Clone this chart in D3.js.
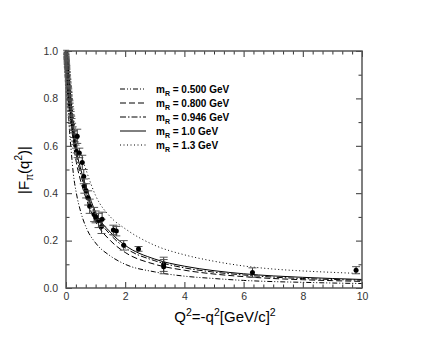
<!DOCTYPE html>
<html>
<head>
<meta charset="utf-8">
<script src="https://cdn.jsdelivr.net/npm/d3@7"></script>
<style>
  body { margin: 0; background: #fff; }
  svg { font-family: "Liberation Sans", Arial, sans-serif; }
</style>
</head>
<body>
<svg id="chart" width="440" height="340"></svg>
<script>
// model curves at these Q^2 values
const qGrid = [0, 0.05, 0.1, 0.175, 0.25, 0.35, 0.5, 0.7, 1, 1.5, 2, 3, 4, 5, 6, 7, 8, 9, 10];
const m0500 = [1, 0.83, 0.70, 0.58, 0.48, 0.40, 0.32, 0.25, 0.19, 0.135, 0.10, 0.068, 0.05, 0.04, 0.032, 0.027, 0.024, 0.021, 0.019];
const m0800 = [1, 0.89, 0.80, 0.70, 0.61, 0.53, 0.45, 0.37, 0.28, 0.20, 0.15, 0.10, 0.075, 0.059, 0.048, 0.040, 0.035, 0.031, 0.028];
const m0946 = [1, 0.90, 0.82, 0.72, 0.64, 0.56, 0.48, 0.40, 0.31, 0.225, 0.17, 0.115, 0.085, 0.067, 0.055, 0.046, 0.040, 0.036, 0.033];
const m1000 = [1, 0.91, 0.83, 0.74, 0.66, 0.58, 0.50, 0.42, 0.32, 0.235, 0.18, 0.122, 0.092, 0.073, 0.06, 0.051, 0.045, 0.040, 0.036];
const m1300 = [1, 0.93, 0.87, 0.79, 0.72, 0.65, 0.57, 0.49, 0.39, 0.30, 0.25, 0.18, 0.14, 0.113, 0.093, 0.080, 0.072, 0.066, 0.061];
const legendLabels = ["0.500", "0.800", "0.946", "1.0", "1.3"];

// measured points: Q^2, |F|, error
const lowQ2 = [0.005,0.01,0.012,0.015,0.018,0.02,0.022,0.025,0.028,0.03,0.033,0.035,0.038,0.04,0.043,0.045,0.048,0.05,0.055,0.06,0.065,0.07,0.075,0.08,0.085,0.09,0.095,0.10,0.105,0.11,0.115,0.12,0.125,0.13,0.135,0.14,0.15,0.16,0.17,0.18,0.19,0.20,0.21,0.22,0.24,0.26,0.28,0.30,0.33,0.36];
const lowF  = [0.995,0.985,0.98,0.975,0.97,0.965,0.96,0.955,0.95,0.945,0.94,0.935,0.93,0.925,0.92,0.915,0.91,0.905,0.895,0.89,0.88,0.875,0.865,0.86,0.85,0.845,0.835,0.83,0.82,0.815,0.805,0.80,0.79,0.785,0.775,0.77,0.76,0.75,0.735,0.725,0.715,0.70,0.695,0.685,0.665,0.65,0.635,0.62,0.60,0.58];
const lowErr = [0.008,0.01,0.01,0.01,0.012,0.012,0.012,0.012,0.015,0.015,0.015,0.015,0.015,0.015,0.018,0.018,0.018,0.018,0.018,0.02,0.02,0.02,0.02,0.02,0.02,0.02,0.02,0.02,0.025,0.025,0.025,0.025,0.025,0.025,0.025,0.025,0.03,0.03,0.03,0.03,0.03,0.03,0.03,0.03,0.03,0.03,0.03,0.03,0.03,0.03];
const highQ2 = [0.38,0.45,0.55,0.60,0.62,0.68,0.75,0.80,0.95,1.0,1.1,1.2,1.22,1.6,1.7,1.95,2.45,3.3,3.3,6.3,9.8];
const highF  = [0.64,0.57,0.53,0.47,0.43,0.41,0.38,0.345,0.31,0.30,0.285,0.26,0.29,0.245,0.24,0.18,0.165,0.10,0.09,0.065,0.075];
const highErr = [0.03,0.02,0.03,0.03,0.03,0.03,0.03,0.03,0.03,0.025,0.03,0.03,0.03,0.02,0.02,0.02,0.01,0.03,0.03,0.02,0.015];

const xTicks = [0, 2, 4, 6, 8, 10];
const yTicks = [0, 0.2, 0.4, 0.6, 0.8, 1.0];

const svg = d3.select("#chart");
const plotL = 66, plotR = 362, plotT = 51, plotB = 288;
const x = d3.scaleLinear().domain([0, 10]).range([plotL, plotR]);
const y = d3.scaleLinear().domain([0, 1]).range([plotB, plotT]);

// curves
const models = [
  {vals: m0500, dash: "5,2,1,2,1,2"},
  {vals: m0800, dash: "6,3"},
  {vals: m0946, dash: "6,2,1.5,2"},
  {vals: m1000, dash: null},
  {vals: m1300, dash: "1,2.5"}
];
const line = d3.line().x(d => x(d[0])).y(d => y(d[1])).curve(d3.curveMonotoneX);
models.forEach(m => {
  svg.append("path")
    .attr("d", line(qGrid.map((q, i) => [q, m.vals[i]])))
    .attr("fill", "none")
    .attr("stroke", "#000")
    .attr("stroke-width", 1)
    .attr("stroke-dasharray", m.dash);
});

// data with error bars
function drawPoints(qs, fs, es, r, cap) {
  const g = svg.append("g");
  qs.forEach((q, i) => {
    const cx = x(q), lo = y(fs[i] - es[i]), hi = y(fs[i] + es[i]);
    g.append("line").attr("x1", cx).attr("x2", cx).attr("y1", lo).attr("y2", hi)
      .attr("stroke", "#333").attr("stroke-width", 1);
    [lo, hi].forEach(yy => g.append("line")
      .attr("x1", cx - cap).attr("x2", cx + cap).attr("y1", yy).attr("y2", yy)
      .attr("stroke", "#555").attr("stroke-width", 1));
    g.append("circle").attr("cx", cx).attr("cy", y(fs[i])).attr("r", r).attr("fill", "#000");
  });
}
drawPoints(lowQ2, lowF, lowErr, 1.8, 3);
drawPoints(highQ2, highF, highErr, 2.5, 4);

// axes, ticks pointing inward
const minorX = d3.range(0, 10.01, 1/3).filter(v => Math.abs(v/2 - Math.round(v/2)) > 0.01);
const minorY = d3.range(0.1, 1, 0.2);
function axis(gen, scale, major, minor, tr, labels) {
  const fmt = scale === y ? d3.format(".1f") : d3.format("d");
  svg.append("g").attr("transform", tr)
    .call(gen(scale).tickValues(major).tickSize(-6).tickPadding(scale === y ? 8 : 5)
      .tickFormat(labels ? fmt : ""));
  svg.append("g").attr("transform", tr)
    .call(gen(scale).tickValues(minor).tickSize(-3.5).tickFormat(""));
}
axis(d3.axisBottom, x, xTicks, minorX, `translate(0,${plotB})`, true);
axis(d3.axisTop, x, xTicks, minorX, `translate(0,${plotT})`, false);
axis(d3.axisLeft, y, yTicks, minorY, `translate(${plotL},0)`, true);
axis(d3.axisRight, y, yTicks, minorY, `translate(${plotR},0)`, false);
svg.selectAll(".domain").remove();
svg.selectAll(".tick line").attr("stroke", "#333");
svg.selectAll(".tick text").attr("font-size", 10.5).attr("fill", "#333")
  .attr("font-family", "Liberation Sans, Arial, sans-serif");
svg.append("rect").attr("x", plotL).attr("y", plotT)
  .attr("width", plotR - plotL).attr("height", plotB - plotT)
  .attr("fill", "none").attr("stroke", "#555").attr("stroke-width", 1.5);

// legend
const leg = svg.append("g");
models.forEach((m, i) => {
  const ly = 89 + i * 14;
  leg.append("line").attr("x1", 120).attr("x2", 146).attr("y1", ly).attr("y2", ly)
    .attr("stroke", "#000").attr("stroke-width", 1).attr("stroke-dasharray", m.dash);
  const t = leg.append("text").attr("x", 156).attr("y", ly + 4)
    .attr("font-size", 10).attr("font-weight", "bold");
  t.append("tspan").text("m");
  t.append("tspan").attr("font-size", 7).attr("dy", 3).text("R");
  t.append("tspan").attr("dy", -3).text(" = " + legendLabels[i] + " GeV");
});

// axis titles
const xt = svg.append("text").attr("x", 225).attr("y", 322)
  .attr("text-anchor", "middle").attr("font-size", 15);
xt.append("tspan").text("Q");
xt.append("tspan").attr("font-size", 10.5).attr("dy", -6).text("2");
xt.append("tspan").attr("dy", 6).text("=-q");
xt.append("tspan").attr("font-size", 10.5).attr("dy", -6).text("2");
xt.append("tspan").attr("dy", 6).text("[GeV/c]");
xt.append("tspan").attr("font-size", 10.5).attr("dy", -6).text("2");

const yt = svg.append("text").attr("transform", "translate(29,170) rotate(-90)")
  .attr("text-anchor", "middle").attr("font-size", 15);
yt.append("tspan").text("|F");
yt.append("tspan").attr("font-size", 10).attr("dy", 4).text("π");
yt.append("tspan").attr("dy", -4).text("(q");
yt.append("tspan").attr("font-size", 10).attr("dy", -7).text("2");
yt.append("tspan").attr("dy", 7).text(")|");
</script>
</body>
</html>
